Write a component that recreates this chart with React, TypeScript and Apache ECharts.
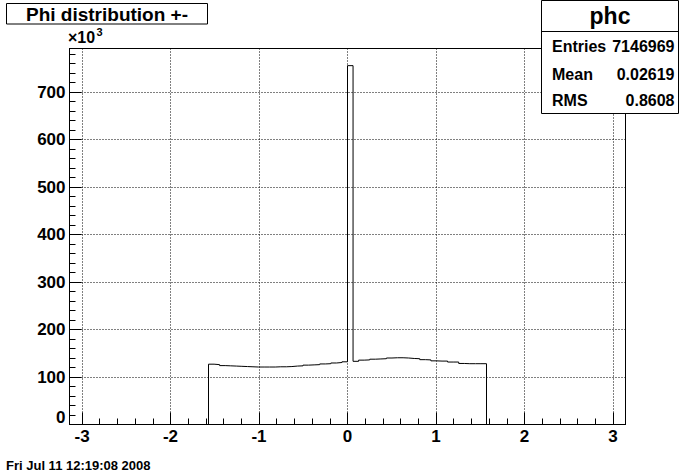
import React, { useEffect, useRef } from "react";
import * as echarts from "echarts";

// Histogram definition (100 bins over [-pi, pi])
const X_MIN = -Math.PI;
const X_MAX = Math.PI;
const N_BINS = 100;
const FIRST_FILLED_BIN = 25;

// Counts of the filled bins 25..74 (all other bins are empty)
const leftCounts: number[] = [
  127000, 126000, 124000, 123500, 123000, 122500, 122000, 121500, 121000, 121000,
  121000, 121000, 121500, 121500, 122000, 123000, 123500, 125000, 125500, 126000,
  127500, 128000, 129500, 130500, 132000,
];
const peakCount: number[] = [755500];
const rightCounts: number[] = [
  133000, 135500, 136000, 137500, 138000, 138500, 140000, 140500, 140500, 140000,
  139000, 138500, 136500, 136000, 134000, 133500, 133500, 131500, 131500, 128500,
  128000, 128000, 128000, 128000,
];

const Y_MAX = 791600;
const Y_MAJOR = 100000;
const Y_MINOR = 20000;
const X_MAJOR = 1;
const X_MINOR = 0.2;

const titleText = "Phi distribution +-";
const statsTitle = "phc";
const statsLabels = ["Entries", "Mean", "RMS"];
const statsValues = ["7146969", "0.02619", "0.8608"];
const dateText = "Fri Jul 11 12:19:08 2008";

const FONT = '"Liberation Sans", Arial, Helvetica, sans-serif';

function buildOutline(): number[][] {
  const counts = new Array(N_BINS).fill(0);
  [...leftCounts, ...peakCount, ...rightCounts].forEach((c, i) => {
    counts[FIRST_FILLED_BIN + i] = c;
  });
  const w = (X_MAX - X_MIN) / N_BINS;
  const pts: number[][] = [[X_MIN, 0]];
  counts.forEach((c, i) => {
    const lo = X_MIN + i * w;
    pts.push([lo, c], [lo + w, c]);
  });
  pts.push([X_MAX, 0]);
  return pts;
}

export default function App() {
  const ref = useRef<HTMLDivElement>(null);

  useEffect(() => {
    if (!ref.current) return;
    const chart = echarts.init(ref.current, null, { renderer: "svg" });
    const black = "#000";
    const labelFont = { color: black, fontFamily: FONT, fontWeight: "bold" as const, fontSize: 17 };

    const txt = (text: string, x: number, y: number, size: number, align: string, valign = "middle") => ({
      type: "text",
      x,
      y,
      z: 100,
      style: {
        text,
        fill: black,
        font: `bold ${size}px ${FONT}`,
        align,
        verticalAlign: valign,
        textAlign: align,
        textVerticalAlign: valign,
      },
    });

    const rowY = [46.5, 74, 100];

    chart.setOption({
      animation: false,
      backgroundColor: "#fff",
      grid: {
        left: 69.5,
        top: 48.5,
        width: 556,
        height: 376,
        show: true,
        borderColor: black,
        borderWidth: 1,
        backgroundColor: "transparent",
        containLabel: false,
        outerBoundsMode: "none",
      },
      xAxis: [
        {
          type: "value",
          min: X_MIN,
          max: X_MAX,
          position: "bottom",
          splitNumber: 6,
          minInterval: X_MAJOR,
          maxInterval: X_MAJOR,
          axisLine: { show: true, onZero: false, lineStyle: { color: black, width: 1 } },
          axisTick: { show: true, inside: true, length: 12, lineStyle: { color: black, width: 1 } },
          axisLabel: {
            show: true,
            showMinLabel: false,
            showMaxLabel: false,
            margin: 3,
            ...labelFont,
            formatter: (v: number) => String(Math.round(v)),
          },
          splitLine: { show: true, lineStyle: { color: black, width: 1, type: [1, 2] } },
          minorTick: { show: false },
        },
        {
          type: "value",
          min: X_MIN,
          max: X_MAX,
          position: "bottom",
          splitNumber: 30,
          minInterval: X_MINOR,
          maxInterval: X_MINOR,
          axisLine: { show: false, onZero: false },
          axisTick: { show: true, inside: true, length: 6, lineStyle: { color: black, width: 1 } },
          axisLabel: { show: false },
          splitLine: { show: false },
        },
      ],
      yAxis: [
        {
          type: "value",
          min: 0,
          max: Y_MAX,
          interval: Y_MAJOR,
          position: "left",
          axisLine: { show: true, onZero: false, lineStyle: { color: black, width: 1 } },
          axisTick: { show: true, inside: true, length: 12, lineStyle: { color: black, width: 1 } },
          axisLabel: {
            show: true,
            showMaxLabel: false,
            margin: 4,
            ...labelFont,
            formatter: (v: number) => (v === 0 ? "{z|0}" : "{n|" + Math.round(v / 1000) + "}"),
            rich: {
              z: { ...labelFont, padding: [0, 0, 14, 0] },
              n: { ...labelFont },
            },
          },
          splitLine: { show: true, lineStyle: { color: black, width: 1, type: [1, 2] } },
        },
        {
          type: "value",
          min: 0,
          max: Y_MAX,
          interval: Y_MINOR,
          position: "left",
          axisLine: { show: false, onZero: false },
          axisTick: { show: true, inside: true, length: 6, lineStyle: { color: black, width: 1 } },
          axisLabel: { show: false },
          splitLine: { show: false },
        },
      ],
      series: [
        {
          type: "line",
          xAxisIndex: 0,
          yAxisIndex: 0,
          data: buildOutline(),
          showSymbol: false,
          symbol: "none",
          lineStyle: { color: black, width: 1 },
          clip: true,
          silent: true,
          z: 5,
        },
      ],
      graphic: [
        // title box
        {
          type: "rect",
          z: 90,
          shape: { x: 6.5, y: 3.5, width: 201, height: 20.5 },
          style: { fill: "#fff", stroke: black, lineWidth: 1 },
        },
        txt(titleText, 107, 14, 19, "center"),
        // stats box
        {
          type: "rect",
          z: 90,
          shape: { x: 541.5, y: 0.5, width: 137, height: 113 },
          style: { fill: "#fff", stroke: black, lineWidth: 1 },
        },
        {
          type: "line",
          z: 91,
          shape: { x1: 541.5, y1: 31.5, x2: 678.5, y2: 31.5 },
          style: { stroke: black, lineWidth: 1 },
        },
        txt(statsTitle, 610, 16, 23, "center"),
        ...statsLabels.map((l, i) => txt(l, 552, rowY[i], 16, "left")),
        ...statsValues.map((v, i) => txt(v, 674.5, rowY[i], 16, "right")),
        // exponent
        txt("\u00d710", 68, 37.5, 16, "left"),
        txt("3", 96.5, 31.5, 11, "left"),
        // date
        txt(dateText, 6, 465.5, 13, "left"),
      ],
    });
    return () => chart.dispose();
  }, []);

  return (
    <div
      ref={ref}
      style={{ position: "fixed", left: 0, top: 0, width: 696, height: 472, background: "#fff" }}
    />
  );
}
